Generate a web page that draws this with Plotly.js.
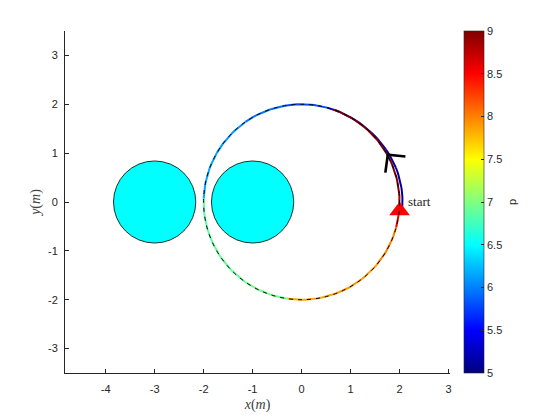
<!DOCTYPE html>
<html>
<head>
<meta charset="utf-8">
<script src="https://cdn.plot.ly/plotly-3.0.1.min.js"></script>
<style>
  html, body { margin: 0; padding: 0; background: #fff; }
  #chart { width: 560px; height: 420px; }
</style>
</head>
<body>
<div id="chart"></div>
<script>
// path samples: angle (deg), radius, p value on the segment that starts there
const pathDeg = [-4, 8, 20, 32, 45, 60, 75, 100, 125, 150, 178, 205, 235, 262, 290, 320, 345, 355, 365, 390, 410, 431];
const pathR   = [2.06, 2.06, 2.05, 2.03, 2.01, 2.0, 2.0, 2.0, 2.0, 2.0, 2.0, 2.0, 2.0, 2.0, 2.0, 2.0, 2.0, 2.0, 2.0, 2.0, 2.0, 2.0];
const pathP   = [5.1, 5.1, 5.15, 5.2, 5.3, 5.5, 5.8, 5.95, 6.1, 6.15, 6.85, 6.9, 6.95, 7.85, 7.9, 8.0, 8.6, 8.85, 8.95, 9.0, 9.0, 9.0];

// obstacles
const obsX = [-3, -1];
const obsY = [0, 0];
const obsR = [0.84, 0.84];

// reference circle
const refR = 2;

// start point and direction arrow
const startX = [2.0];
const startY = [-0.18];
const arrowX = [2.12, 1.76, 1.71];
const arrowY = [0.93, 0.97, 0.6];

const xTicks = [-4, -3, -2, -1, 0, 1, 2, 3];
const yTicks = [-3, -2, -1, 0, 1, 2, 3];
const pMin = 5, pMax = 9;
const cbTicks = [5, 5.5, 6, 6.5, 7, 7.5, 8, 8.5, 9];

// MATLAB jet
function jet(p) {
    const t = Math.min(1, Math.max(0, (p - pMin) / (pMax - pMin)));
    const c = v => Math.round(255 * Math.min(1, Math.max(0, v)));
    const r = c(1.5 - Math.abs(4 * t - 3));
    const g = c(1.5 - Math.abs(4 * t - 2));
    const b = c(1.5 - Math.abs(4 * t - 1));
    return `rgb(${r},${g},${b})`;
}

const jetScale = [];
for (let i = 0; i <= 16; i++) {
    jetScale.push([i / 16, jet(pMin + (pMax - pMin) * i / 16)]);
}

const traces = [];

// coloured trajectory, one trace per segment
for (let i = 0; i < pathDeg.length - 1; i++) {
    const a0 = pathDeg[i], a1 = pathDeg[i + 1];
    const r0 = pathR[i], r1 = pathR[i + 1];
    const n = Math.max(2, Math.ceil((a1 - a0) / 2));
    const xs = [], ys = [];
    for (let k = 0; k <= n; k++) {
        const f = k / n;
        const a = (a0 + (a1 - a0) * f) * Math.PI / 180;
        const r = r0 + (r1 - r0) * f;
        xs.push(r * Math.cos(a));
        ys.push(r * Math.sin(a));
    }
    traces.push({
        x: xs, y: ys,
        type: 'scatter', mode: 'lines',
        line: { color: jet(pathP[i]), width: 2 },
        hoverinfo: 'skip', showlegend: false
    });
}

// arrow head
traces.push({
    x: arrowX, y: arrowY,
    type: 'scatter', mode: 'lines',
    line: { color: 'black', width: 2.6 },
    hoverinfo: 'skip', showlegend: false
});

// start marker
traces.push({
    x: startX, y: startY,
    type: 'scatter', mode: 'markers',
    marker: { symbol: 'triangle-up', size: 18, color: 'red', line: { width: 0 } },
    showlegend: false
});

// colorbar holder
traces.push({
    x: [startX[0], startX[0]], y: [startY[0], startY[0]],
    type: 'scatter', mode: 'markers',
    marker: {
        color: [pMin, pMax], cmin: pMin, cmax: pMax,
        colorscale: jetScale, opacity: 0, size: 1,
        showscale: true,
        colorbar: {
            x: 1.036, xanchor: 'left', xpad: 0,
            y: 0.5, yanchor: 'middle', ypad: 0,
            len: 1, lenmode: 'fraction',
            thickness: 20, thicknessmode: 'pixels',
            outlinewidth: 0.6, outlinecolor: '#262626',
            ticks: 'inside', ticklen: 3, tickcolor: '#262626',
            tickvals: cbTicks, ticktext: cbTicks.map(String),
            tickfont: { family: 'Liberation Sans, Arial, sans-serif', size: 11, color: '#262626' }
        }
    },
    hoverinfo: 'skip', showlegend: false
});

const shapes = [];
obsX.forEach((cx, i) => {
    shapes.push({
        type: 'circle', xref: 'x', yref: 'y',
        x0: cx - obsR[i], x1: cx + obsR[i],
        y0: obsY[i] - obsR[i], y1: obsY[i] + obsR[i],
        fillcolor: '#00ffff', line: { color: 'black', width: 0.8 },
        layer: 'below'
    });
});
shapes.push({
    type: 'circle', xref: 'x', yref: 'y',
    x0: -refR, x1: refR, y0: -refR, y1: refR,
    line: { color: 'black', width: 1, dash: '4px,5px' },
    layer: 'above'
});

const axisFont = { family: 'Liberation Sans, Arial, sans-serif', size: 11, color: '#262626' };
const labelFont = { family: 'Liberation Serif, Times New Roman, serif', size: 14, color: '#404040' };

const layout = {
    width: 560, height: 420,
    margin: { l: 65, r: 110, t: 31, b: 47 },
    paper_bgcolor: 'white', plot_bgcolor: 'white',
    showlegend: false,
    xaxis: {
        range: [-4.83, 3.03],
        tickvals: xTicks, ticktext: xTicks.map(String),
        ticks: 'inside', ticklen: 4, tickcolor: '#262626',
        ticklabelstandoff: 6,
        showline: true, linecolor: '#262626', linewidth: 1,
        showgrid: false, zeroline: false,
        tickfont: axisFont,
        title: { text: '<i>x</i>(<i>m</i>)', font: labelFont, standoff: 4 }
    },
    yaxis: {
        range: [-3.5, 3.5],
        tickvals: yTicks, ticktext: yTicks.map(String),
        ticks: 'inside', ticklen: 4, tickcolor: '#262626',
        ticklabelstandoff: 4,
        showline: true, linecolor: '#262626', linewidth: 1,
        showgrid: false, zeroline: false,
        tickfont: axisFont,
        title: { text: '<i>y</i>(<i>m</i>)', font: labelFont, standoff: 4 }
    },
    shapes: shapes,
    annotations: [
        {
            x: startX[0] + 0.14, y: 0.02, xref: 'x', yref: 'y',
            text: 'start', showarrow: false, xanchor: 'left', yanchor: 'middle',
            font: { family: 'Liberation Serif, Times New Roman, serif', size: 13, color: '#262626' }
        },
        {
            x: (520 - 65) / 385, y: 0.5, xref: 'paper', yref: 'paper',
            text: 'p', showarrow: false, textangle: -90,
            font: { family: 'Liberation Sans, Arial, sans-serif', size: 11, color: '#262626' }
        }
    ]
};

Plotly.newPlot('chart', traces, layout, { staticPlot: true });
</script>
</body>
</html>
